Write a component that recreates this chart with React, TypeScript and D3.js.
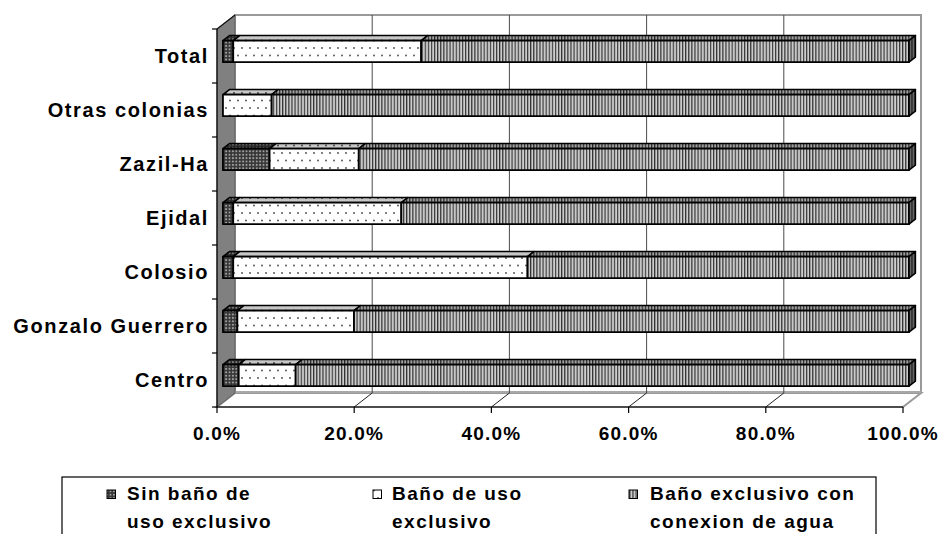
import React from "react";
import * as d3 from "d3";

const categories = ["Total", "Otras colonias", "Zazil-Ha", "Ejidal", "Colosio", "Gonzalo Guerrero", "Centro"];
const sinBano = [1.5, 0, 6.8, 1.5, 1.5, 2.1, 2.3];
const banoUso = [27.4, 7.1, 13.0, 24.5, 42.9, 17.0, 8.3];
const banoConexion = [71.1, 92.9, 80.2, 74.0, 55.6, 80.9, 89.4];
const tickValues = [0, 20, 40, 60, 80, 100];
const tickLabels = ["0.0%", "20.0%", "40.0%", "60.0%", "80.0%", "100.0%"];
const seriesNames = [
  ["Sin baño de", "uso exclusivo"],
  ["Baño de uso", "exclusivo"],
  ["Baño exclusivo con", "conexion de agua"],
];
const seriesPatterns = ["pSin", "pUso", "pCon"];

const W = 942;
const H = 534;
const DX = 18;
const DY = -14;
const F1 = 0.33;
const F2 = 0.69;
const FONT = "'Liberation Sans', Arial, sans-serif";

export default function App() {
  const x = d3.scaleLinear().domain([0, 100]).range([217, 903]);
  const y = d3.scaleBand<string>().domain(categories).range([29, 407]).padding(0);
  const barH = y.bandwidth() * 0.4;
  const P = (v: number, yy: number, f: number): [number, number] => [x(v) + DX * f, yy + DY * f];
  const poly = (pts: [number, number][]) => pts.map((p) => p.join(",")).join(" ");

  const series = [sinBano, banoUso, banoConexion];
  const stacked = categories.map((c, i) => {
    let acc = 0;
    return series.map((s) => {
      const a = acc;
      acc += s[i];
      return [a, acc];
    });
  });

  const x0 = x(0);
  const x1 = x(100);
  const yTop = y.range()[0];
  const yBot = y.range()[1];

  return (
    <svg width={W} height={H} style={{ position: "absolute", left: 0, top: 0, display: "block", background: "#fff" }}>
      <defs>
        <pattern id="pSin" patternUnits="userSpaceOnUse" width={3.4} height={3.4}>
          <rect width={3.4} height={3.4} fill="#363636" />
          <rect x={0.8} y={0.8} width={1.8} height={1.8} fill="#a0a0a0" />
        </pattern>
        <pattern id="pUso" patternUnits="userSpaceOnUse" width={8} height={15}>
          <rect width={8} height={15} fill="#ffffff" />
          <circle cx={2} cy={3} r={1} fill="#5a5a5a" />
          <circle cx={6} cy={10.5} r={1} fill="#5a5a5a" />
        </pattern>
        <pattern id="pCon" patternUnits="userSpaceOnUse" width={3.1} height={10}>
          <rect width={3.1} height={10} fill="#a0a0a0" />
          <rect x={0} width={1} height={10} fill="#333" />
          <rect x={1.9} width={0.9} height={10} fill="#ebebeb" />
        </pattern>
      </defs>

      {/* back wall */}
      <rect x={x0 + DX} y={yTop + DY} width={x1 - x0} height={yBot - yTop} fill="#fff" stroke="#9a9a9a" strokeWidth={2} />
      {/* floor */}
      <polygon
        points={poly([[x0, yBot], [x0 + DX, yBot + DY], [x1 + DX, yBot + DY], [x1, yBot]])}
        fill="#fff"
        stroke="#9a9a9a"
        strokeWidth={2}
      />
      <line x1={x0 + DX} x2={x1 + DX} y1={yBot + DY - 1} y2={yBot + DY - 1} stroke="#a8a8a8" strokeWidth={2} />
      {/* gridlines */}
      {tickValues.slice(1, -1).map((t) => (
        <g key={t}>
          <line x1={x(t) + DX} x2={x(t) + DX} y1={yTop + DY} y2={yBot + DY} stroke="#4a4a4a" strokeWidth={1} />
          <line x1={x(t)} x2={x(t) + DX} y1={yBot} y2={yBot + DY} stroke="#222" strokeWidth={1} />
        </g>
      ))}
      {/* left wall */}
      <polygon
        points={poly([[x0, yTop], [x0 + DX, yTop + DY], [x0 + DX, yBot + DY], [x0, yBot]])}
        fill="#808080"
        stroke="#555"
        strokeWidth={0.8}
      />
      <line x1={x0} x2={x0 + DX} y1={yTop} y2={yTop + DY} stroke="#111" strokeWidth={1.2} />

      {/* bars */}
      {categories.map((c, i) => {
        const cy = (y(c) as number) + y.bandwidth() / 2;
        const t = cy - barH / 2;
        const b = cy + barH / 2;
        const segs = stacked[i];
        const last = segs.length - 1;
        return (
          <g key={c}>
            {segs.map(([a, e], k) => {
              if (e - a <= 0) return null;
              const pat = `url(#${seriesPatterns[k]})`;
              const front = poly([P(a, t, F1), P(e, t, F1), P(e, b, F1), P(a, b, F1)]);
              const top = poly([P(a, t, F1), P(e, t, F1), P(e, t, F2), P(a, t, F2)]);
              const side = poly([P(e, t, F1), P(e, t, F2), P(e, b, F2), P(e, b, F1)]);
              return (
                <g key={k}>
                  <polygon points={top} fill={pat} />
                  <polygon points={top} fill="#000" fillOpacity={0.22} stroke="#000" strokeWidth={1.5} strokeLinejoin="round" />
                  <polygon points={front} fill={pat} stroke="#000" strokeWidth={1.8} strokeLinejoin="round" />
                  {k === last && (
                    <>
                      <polygon points={side} fill={pat} />
                      <polygon points={side} fill="#000" fillOpacity={0.5} stroke="#000" strokeWidth={1.5} strokeLinejoin="round" />
                    </>
                  )}
                </g>
              );
            })}
          </g>
        );
      })}

      {/* axes */}
      <line x1={x0} x2={x1} y1={yBot} y2={yBot} stroke="#000" strokeWidth={1.2} />
      <line x1={x0} x2={x0} y1={yTop} y2={yBot} stroke="#000" strokeWidth={1.2} />
      {tickValues.map((t) => (
        <line key={t} x1={x(t)} x2={x(t)} y1={yBot} y2={yBot + 6} stroke="#000" strokeWidth={1.2} />
      ))}
      {d3.range(categories.length + 1).map((k) => {
        const yy = yTop + k * y.step();
        return <line key={k} x1={x0 - 5} x2={x0} y1={yy} y2={yy} stroke="#000" strokeWidth={1.2} />;
      })}

      {/* labels */}
      <g fontFamily={FONT} fontWeight="bold" fill="#000">
        {categories.map((c) => (
          <text key={c} x={209} y={(y(c) as number) + y.bandwidth() / 2 + 7} fontSize={20} textAnchor="end" style={{ letterSpacing: "1.6px" }}>
            {c}
          </text>
        ))}
        {tickValues.map((t, k) => (
          <text key={t} x={x(t)} y={440} fontSize={19} textAnchor="middle" style={{ letterSpacing: "1.2px" }}>
            {tickLabels[k]}
          </text>
        ))}
      </g>

      {/* legend */}
      <rect x={62} y={477} width={814} height={80} fill="#fff" stroke="#000" strokeWidth={1.2} />
      {seriesNames.map((lines, k) => {
        const sx = [107, 373, 629][k];
        const tx = [127, 392, 650][k];
        return (
          <g key={k} fontFamily={FONT} fontWeight="bold" fontSize={19} style={{ letterSpacing: "1.5px" }}>
            <rect x={sx} y={490} width={8.5} height={8.5} fill={`url(#${seriesPatterns[k]})`} stroke="#000" strokeWidth={1} />
            <text x={tx} y={500}>
              {lines[0]}
            </text>
            <text x={tx} y={528}>
              {lines[1]}
            </text>
          </g>
        );
      })}
    </svg>
  );
}
